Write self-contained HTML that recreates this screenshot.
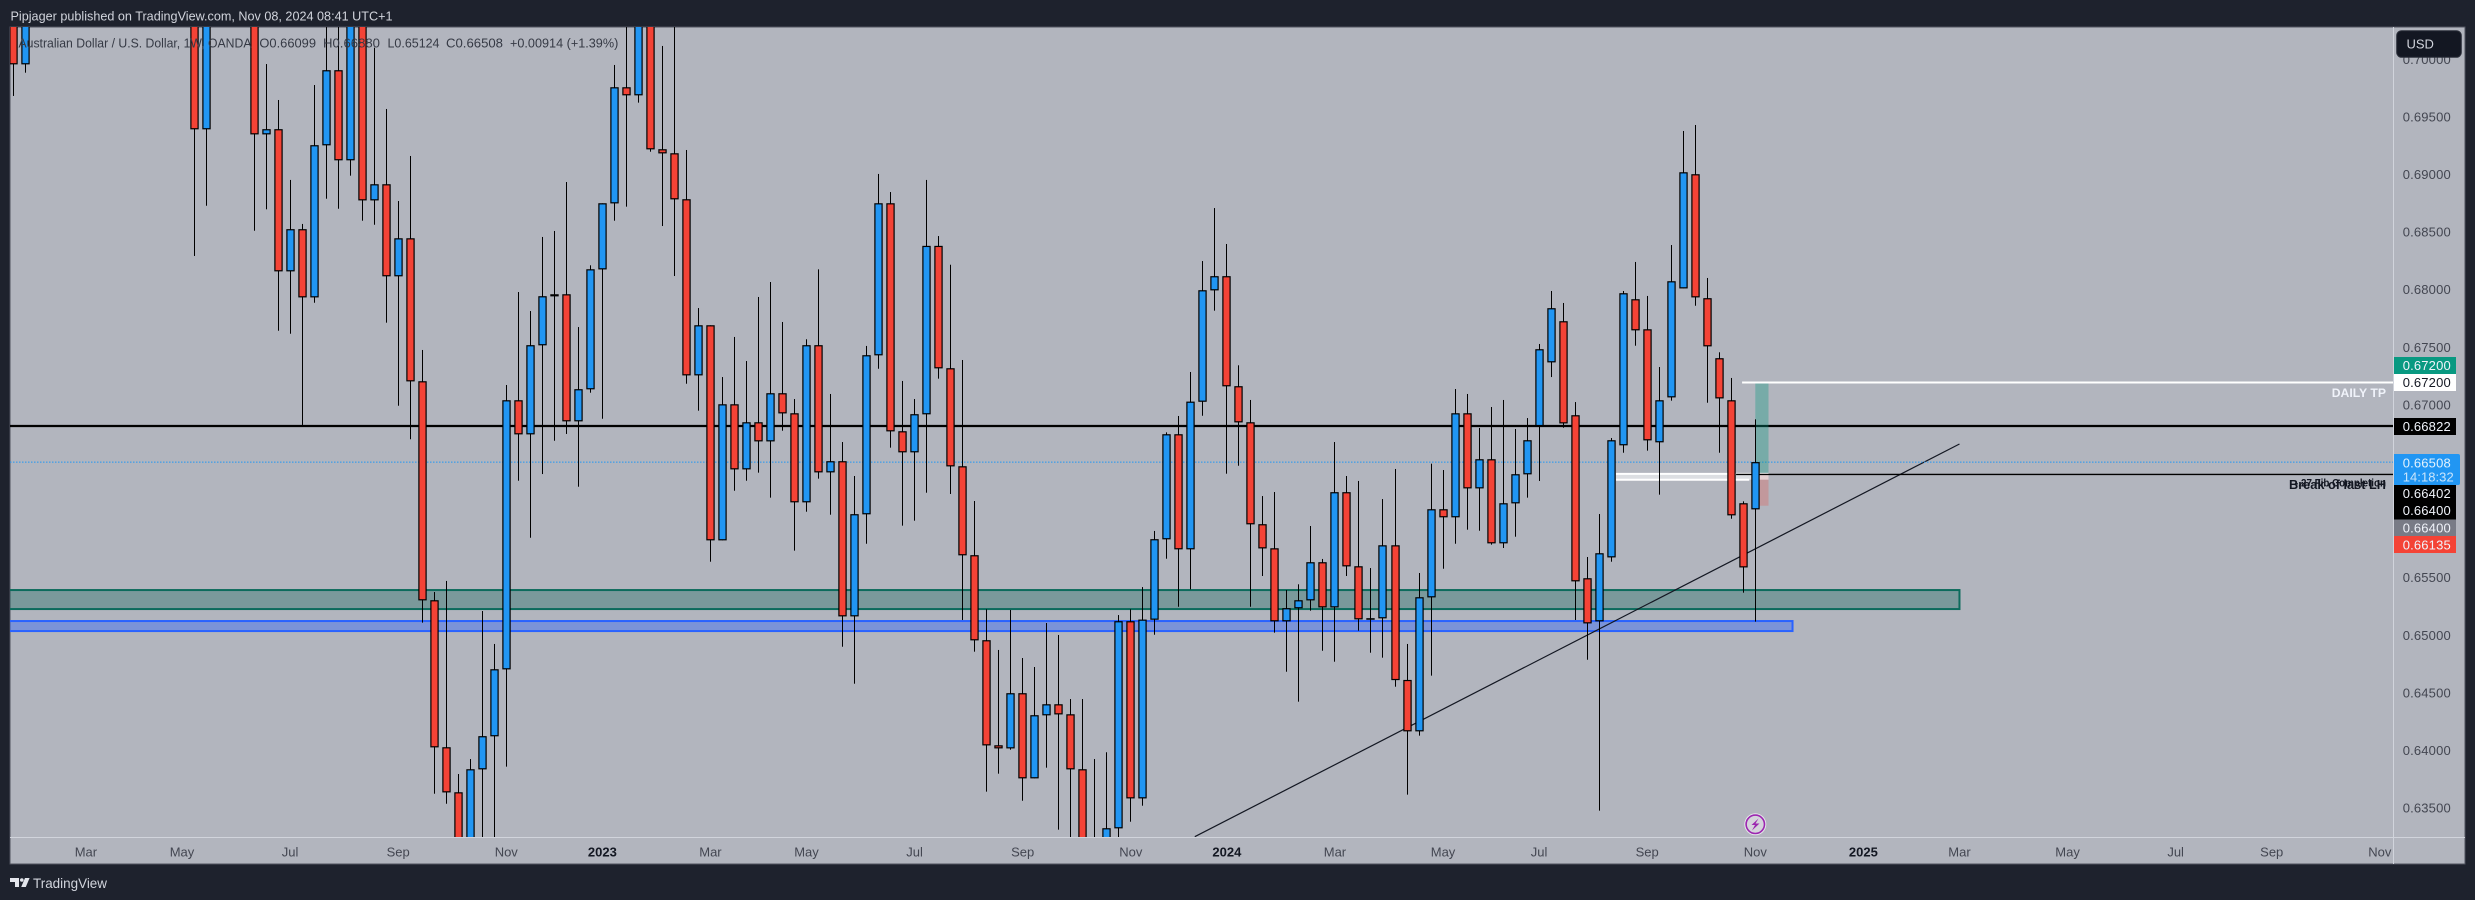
<!DOCTYPE html>
<html lang="en">
<head>
<meta charset="utf-8">
<title>AUD/USD weekly chart</title>
<style>
html,body{margin:0;padding:0;background:#1e222d;width:2475px;height:900px;overflow:hidden}
svg{display:block}
text{font-family:"Liberation Sans",sans-serif;font-size:13px}
.tick{fill:#434651}
.yr{fill:#131722;font-weight:bold}
.lg{fill:#363a45}
.lab{fill:#f0f3fa}
</style>
</head>
<body>
<svg id="chart" xmlns="http://www.w3.org/2000/svg" width="2475" height="900" viewBox="0 0 2475 900">
  <defs>
    <clipPath id="plot-clip"><rect x="10" y="27" width="2383" height="810"/></clipPath>
    <clipPath id="axis-clip"><rect x="2394" y="27" width="71" height="810"/></clipPath>
  </defs>
  <rect x="0" y="0" width="2475" height="900" fill="#1e222d"/>
  <text x="10.5" y="20.3" fill="#d1d4dc" textLength="382" lengthAdjust="spacingAndGlyphs">Pipjager published on TradingView.com, Nov 08, 2024 08:41 UTC+1</text>
  <rect x="10" y="27" width="2455" height="837" fill="#b2b5be" stroke="#50535e" stroke-width="1"/>
  <g id="plot" clip-path="url(#plot-clip)"></g>
  <rect x="2393" y="27" width="1" height="837" fill="#d1d4dc"/>
  <rect x="10" y="837" width="2455" height="1" fill="#d1d4dc"/>
  <g id="price-ticks"></g>
  <g id="time-ticks"></g>

  <g>
    <text class="lg" x="18.5" y="47.3" textLength="233" lengthAdjust="spacingAndGlyphs">Australian Dollar / U.S. Dollar, 1W, OANDA</text>
    <text class="lg" x="259.4" y="47.3" textLength="56.6" lengthAdjust="spacingAndGlyphs">O0.66099</text>
    <text class="lg" x="323" y="47.3" textLength="57" lengthAdjust="spacingAndGlyphs">H0.66880</text>
    <text class="lg" x="387.5" y="47.3" textLength="52" lengthAdjust="spacingAndGlyphs">L0.65124</text>
    <text class="lg" x="446" y="47.3" textLength="57" lengthAdjust="spacingAndGlyphs">C0.66508</text>
    <text class="lg" x="510" y="47.3" textLength="108.3" lengthAdjust="spacingAndGlyphs">+0.00914 (+1.39%)</text>
  </g>

  <text x="2331.7" y="397" fill="#f0f3fa" font-weight="bold" textLength="54.3" lengthAdjust="spacingAndGlyphs" style="font-size:12px">DAILY TP</text>
  <text x="2295" y="486.3" fill="#131722" font-weight="bold" textLength="91" lengthAdjust="spacingAndGlyphs" style="font-size:11px">-.27 Fib Completion</text>
  <text x="2289" y="489" fill="#131722" font-weight="bold" textLength="97" lengthAdjust="spacingAndGlyphs">Break of last LH</text>

  <g>
    <rect x="2394" y="357" width="62" height="17" fill="#089981"/>
    <text class="lab" x="2402.7" y="370" textLength="48">0.67200</text>
    <rect x="2394" y="374" width="62" height="17" fill="#ffffff"/>
    <text x="2402.7" y="387" fill="#131722" textLength="48">0.67200</text>
    <rect x="2394" y="418" width="62" height="17" fill="#000000"/>
    <text class="lab" x="2402.7" y="431" textLength="48">0.66822</text>
    <path d="M2394 454H2458a2 2 0 0 1 2 2V483a2 2 0 0 1 -2 2H2394Z" fill="#2196f3"/>
    <text x="2402.7" y="467.3" fill="#e3f2fd" textLength="48">0.66508</text>
    <text x="2402.7" y="481.3" fill="#c8e4fb" textLength="51">14:18:32</text>
    <rect x="2394" y="485" width="62" height="34.5" fill="#000000"/>
    <text class="lab" x="2402.7" y="498" textLength="48">0.66402</text>
    <text class="lab" x="2402.7" y="515" textLength="48">0.66400</text>
    <rect x="2394" y="519.5" width="62" height="16.5" fill="#787b86"/>
    <text class="lab" x="2402.7" y="532.3" textLength="48">0.66400</text>
    <rect x="2394" y="536" width="62" height="17" fill="#f44336"/>
    <text class="lab" x="2402.7" y="549.3" textLength="48">0.66135</text>
  </g>

  <g>
    <rect x="2396.7" y="30.7" width="64.6" height="26.6" rx="5" fill="#131722" stroke="#2a2e39" stroke-width="1"/>
    <text x="2406.5" y="48.4" fill="#d1d4dc">USD</text>
  </g>

  <g>
    <circle cx="1755.3" cy="824.3" r="11" fill="#e6e6ec"/>
    <circle cx="1755.3" cy="824.3" r="9.2" fill="#d5d3dc" stroke="#9c27b0" stroke-width="1.6"/>
    <path d="M1758.5 818.5L1751.5 825H1755L1752 830.5L1759.5 823.5H1755.5Z" fill="#9c27b0"/>
  </g>

  <g>
    <path d="M10 878H19V887H15V882H10Z" fill="#e4e6ec"/>
    <circle cx="21.8" cy="880" r="1.8" fill="#e4e6ec"/>
    <path d="M25 878H29.6L25.8 887H21.2Z" fill="#e4e6ec"/>
    <text x="33" y="888" fill="#d1d4dc" textLength="74" lengthAdjust="spacingAndGlyphs" style="font-size:14px">TradingView</text>
  </g>
</svg>

<script>
/* Weekly OHLC. Bars whose values sit off-screen are estimates. */
const opens = [
.70600,.69962,.7165,.7200,.7180,.7240,.7260,.7400,.7500,.7480,
.7400,.7520,.7460,.7380,.7230,.70900,.69398,.7060,.7100,.7090,
.7130,.69354,.69398,.68165,.68530,.67939,.69259,.69910,.69129,.7060,
.68781,.68920,.68122,.68451,.67210,.65309,.64033,.63642,.63055,.63842,
.64129,.64710,.67045,.66750,.67523,.67948,.67965,.66863,.67141,.68182,
.68755,.69762,.69693,.7055,.69224,.69189,.68790,.67262,.67696,.65830,
.67010,.66446,.66854,.66689,.67106,.66932,.66160,.67523,.66420,.66516,
.65170,.66056,.67436,.68755,.66776,.66594,.66924,.68385,.67323,.66472,
.65700,.64962,.64050,.64024,.64502,.63764,.64311,.64406,.64319,.63842,
.6290,.6315,.63330,.65127,.63590,.65141,.65839,.66750,.65752,.67033,
.68000,.68122,.67167,.66854,.65969,.65760,.65127,.65240,.65309,.65639,
.65248,.66247,.65604,.65144,.65153,.65786,.64617,.64172,.65335,.66099,
.66030,.66932,.66281,.66533,.65804,.66151,.66403,.66822,.67375,.67731,
.66915,.65500,.65127,.65682,.66655,.67922,.67661,.66681,.67071,.68017,
.69007,.67931,.67410,.67045,.66151,.66099];
const highs = [
.70900,.71800,.7250,.7280,.7260,.7300,.7440,.7520,.7560,.7520,
.7580,.7540,.7500,.7400,.7290,.71100,.7100,.7120,.7130,.7180,
.7180,.69964,.69652,.68958,.68576,.69782,.7060,.7050,.7080,.7090,
.70106,.69574,.68775,.69166,.67482,.65381,.65477,.63801,.63931,.65216,
.64930,.67178,.67985,.67820,.68463,.68515,.68940,.67681,.68217,.68755,
.69956,.7050,.7080,.7090,.70121,.7050,.69218,.67846,.67696,.67247,
.67595,.67386,.67942,.68072,.67725,.67056,.67575,.68182,.67100,.66683,
.66388,.67517,.69010,.68853,.67213,.67056,.68958,.68471,.68222,.67395,
.66171,.65231,.64878,.65225,.64808,.64730,.65112,.65008,.64452,.64452,
.63931,.63990,.65181,.65231,.65424,.65911,.66767,.66909,.67291,.68254,
.68714,.68402,.67349,.67048,.66214,.66249,.65398,.65448,.65954,.65668,
.66683,.66388,.66345,.65589,.66188,.66449,.64930,.65546,.66495,.66440,
.67143,.67100,.66805,.66987,.67048,.66796,.66891,.67534,.67994,.67890,
.67030,.65685,.66058,.66718,.67994,.68246,.67951,.67334,.68393,.69383,
.69435,.68107,.67462,.67239,.66168,.66880];
const lows = [
.69687,.69889,.7100,.7130,.7100,.7150,.7170,.7370,.7420,.7380,
.7380,.7450,.7300,.7200,.7050,.68298,.68734,.7040,.7045,.7060,
.68517,.68703,.67649,.67623,.66831,.67892,.68795,.68708,.68995,.68604,
.68569,.67719,.66998,.66707,.65115,.63630,.63543,.6290,.6290,.6300,
.6300,.63865,.66347,.65852,.66405,.66694,.66753,.66295,.67111,.66885,
.68604,.68726,.69629,.69203,.68558,.68124,.67189,.66955,.65644,.65830,
.66260,.66347,.66417,.66200,.66781,.65740,.66078,.66365,.66052,.64906,
.64585,.65800,.67319,.66634,.65957,.66000,.66243,.67233,.66232,.65138,
.64863,.63648,.63804,.64012,.63569,.63764,.63856,.63318,.6270,.6270,
.6270,.6280,.6310,.63387,.63526,.65010,.65670,.65253,.65404,.66911,
.67823,.66408,.66477,.65253,.65520,.65028,.64689,.64429,.65219,.64871,
.64776,.65520,.65045,.64854,.64811,.64559,.63622,.64134,.64655,.65583,
.65800,.65922,.65913,.65792,.65763,.65861,.66200,.66345,.67247,.66807,
.65138,.64793,.63483,.65644,.66590,.67519,.66608,.66226,.67042,.68017,
.67866,.67024,.66590,.66017,.65375,.65124];
const closes = [
.69962,.7165,.7200,.7180,.7240,.7260,.7400,.7500,.7480,.7400,
.7520,.7460,.7380,.7230,.7090,.69398,.7060,.7100,.7090,.7130,
.69354,.69398,.68165,.68530,.67939,.69259,.69910,.69129,.7060,.68781,
.68920,.68122,.68451,.67210,.65309,.64033,.63642,.63055,.63842,.64129,
.64710,.67045,.66750,.67523,.67948,.67965,.66863,.67141,.68182,.68755,
.69762,.69693,.7055,.69224,.69189,.68790,.67262,.67696,.65830,.67010,
.66446,.66854,.66689,.67106,.66932,.66160,.67523,.66420,.66516,.65170,
.66056,.67436,.68755,.66776,.66594,.66924,.68385,.67323,.66472,.65700,
.64962,.64050,.64024,.64502,.63764,.64311,.64406,.64319,.63842,.6290,
.6315,.63330,.65127,.63590,.65141,.65839,.66750,.65752,.67033,.68000,
.68122,.67167,.66854,.65969,.65760,.65127,.65240,.65309,.65639,.65248,
.66247,.65604,.65144,.65153,.65786,.64617,.64172,.65335,.66099,.66030,
.66932,.66281,.66533,.65804,.66151,.66403,.66698,.67488,.67844,.66845,
.65474,.65109,.65717,.66698,.67974,.67653,.66698,.67045,.68078,.69024,
.67939,.67514,.67062,.66047,.65595,.66508];

const priceTicks = [0.70,0.695,0.69,0.685,0.68,0.675,0.67,0.665,0.66,0.655,0.65,0.645,0.64,0.635];
const timeTickBars = [6,14,23,32,41,49,58,66,75,84,93,101,110,119,127,136,145,154,162,171,180,188,197];
const timeTickLabels = ["Mar","May","Jul","Sep","Nov","2023","Mar","May","Jul","Sep","Nov","2024","Mar","May","Jul","Sep","Nov","2025","Mar","May","Jul","Sep","Nov"];

const horizontalLevel = 0.66822;
const lastPrice = 0.66508;
const takeProfit = 0.67200;
const breakLevel = 0.66402;
const fibLevel = 0.66356;
const stopPrice = 0.66130;
const greenZone = [0.65398,0.65233];
const blueZone = [0.65129,0.65042];
const trendBars = [98.33,162.0];
const trendPrices = [0.63257,0.66666];

const NS = "http://www.w3.org/2000/svg";
const plot = document.getElementById("plot");
const xAt = i => 1755.3 - (145 - i) * 12.01;
const yAt = p => 405.5 + (0.67 - p) * 11520;
const PLOT_LEFT = 10, PLOT_RIGHT = 2393;

function mk(tag, attrs, parent) {
  const el = document.createElementNS(NS, tag);
  for (const k in attrs) el.setAttribute(k, attrs[k]);
  parent.appendChild(el);
  return el;
}
function box(x1, x2, p1, p2, fill, stroke, sw) {
  const a = { x: x1, y: yAt(p1), width: x2 - x1, height: yAt(p2) - yAt(p1), fill: fill };
  if (stroke) { a.stroke = stroke; a["stroke-width"] = sw; }
  return mk("rect", a, plot);
}
function hline(x1, x2, p, color, sw, dash) {
  const a = { x1: x1, x2: x2, y1: yAt(p), y2: yAt(p), stroke: color, "stroke-width": sw };
  if (dash) a["stroke-dasharray"] = dash;
  return mk("line", a, plot);
}

let el;
el = box(PLOT_LEFT - 4, xAt(162), greenZone[0], greenZone[1], "rgba(9,96,86,0.33)", "#0c6b5c", 2);


el = box(PLOT_LEFT - 4, xAt(148.1), blueZone[0], blueZone[1], "rgba(41,98,255,0.4)", "#2962ff", 2);


el = mk("line", { x1: xAt(trendBars[0]), y1: yAt(trendPrices[0]), x2: xAt(trendBars[1]), y2: yAt(trendPrices[1]), stroke: "#131722", "stroke-width": 1.2 }, plot);


el = hline(PLOT_LEFT, PLOT_RIGHT, horizontalLevel, "#000000", 2.2);


el = hline(PLOT_LEFT, PLOT_RIGHT, lastPrice, "#2196f3", 1, "1.5 1.5");


el = box(xAt(145), xAt(146.1), takeProfit, breakLevel, "rgba(8,153,129,0.35)");


el = box(xAt(145), xAt(146.1), breakLevel, stopPrice, "rgba(244,67,54,0.25)");


el = box(xAt(133.4), xAt(146.1), breakLevel + 0.00004, fibLevel, "rgba(255,255,255,0.55)");


el = hline(xAt(133.4), xAt(146.1), breakLevel + 0.00004, "#ffffff", 2);


el = hline(xAt(133.4), xAt(144.5), fibLevel, "#ffffff", 2);


el = hline(xAt(143.9), PLOT_RIGHT, takeProfit, "#ffffff", 2);


el = hline(xAt(143.4), PLOT_RIGHT, breakLevel, "#000000", 1.4);



const candleLayer = mk("g", {}, plot);



opens.forEach((open, i) => {
  const close = closes[i], up = close >= open;
  const cx = Math.round(xAt(i) - 0.5);
  const g = mk("g", {}, candleLayer);
  
  
  const wick = mk("rect", { x: cx, y: yAt(highs[i]), width: 1, height: yAt(lows[i]) - yAt(highs[i]), fill: "#000000" }, g);
  
  
  const top = yAt(Math.max(open, close)), bot = yAt(Math.min(open, close));
  const body = mk("rect", { x: cx + 0.5 - 3.6, y: top + 0.5, width: 7.2, height: Math.max(bot - top - 1, 0.4), fill: up ? "#2196f3" : "#f44336", stroke: "#000000", "stroke-width": 1.2 }, g);
  
  
});

const priceGroup = document.getElementById("price-ticks");
priceTicks.forEach(p => {
  const t = mk("text", { x: 2402.7, y: yAt(p) + 3.9, class: "tick", textLength: 48 }, priceGroup);
  t.textContent = p.toFixed(5);
  
  
});

const timeGroup = document.getElementById("time-ticks");
timeTickBars.forEach((b, i) => {
  const label = timeTickLabels[i];
  const isYear = /^\d+$/.test(label);
  const t = mk("text", { x: xAt(b), y: 856.3, "text-anchor": "middle", class: isYear ? "yr" : "tick" }, timeGroup);
  t.textContent = label;
  
  
});
</script>
</body>
</html>
